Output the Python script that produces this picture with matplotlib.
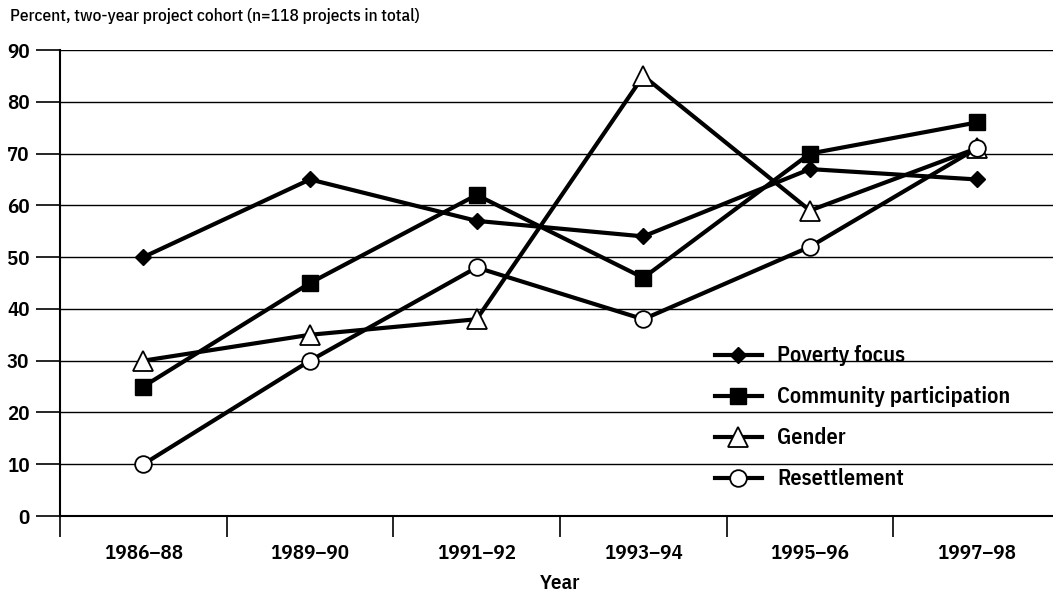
import matplotlib
matplotlib.use("Agg")
import matplotlib.pyplot as plt

# data
periods = ['1986–88', '1989–90', '1991–92', '1993–94', '1995–96', '1997–98']
poverty = [50, 65, 57, 54, 67, 65]
community = [25, 45, 62, 46, 70, 76]
gender = [30, 35, 38, 85, 59, 71]
resettlement = [10, 30, 48, 38, 52, 71]

plt.rcParams['font.family'] = ['IBM Plex Sans Condensed', 'DejaVu Sans']
plt.rcParams['font.weight'] = 600

fig = plt.figure(figsize=(10.53, 5.98), dpi=100)
ax = fig.add_axes([60 / 1053, 82 / 598, 1000 / 1053, 466 / 598])

x = list(range(len(periods)))
ax.plot(x, poverty, color='black', lw=3, marker='D', ms=8,
        mfc='black', mec='black', label='Poverty focus', zorder=3)
ax.plot(x, community, color='black', lw=3, marker='s', ms=11,
        mfc='black', mec='black', label='Community participation', zorder=3)
ax.plot(x, gender, color='black', lw=3, marker='^', ms=14,
        mfc='white', mec='black', mew=1.3, label='Gender', zorder=4)
ax.plot(x, resettlement, color='black', lw=3, marker='o', ms=12,
        mfc='white', mec='black', mew=1.3, label='Resettlement', zorder=4)

ax.set_xlim(-0.5, 5.5)
ax.set_ylim(0, 90)
ax.set_yticks(range(0, 91, 10))
ax.yaxis.grid(True, color='black', lw=1)
ax.set_axisbelow(True)

# ticks between categories, labels at the centres
ax.set_xticks([i - 0.5 for i in range(len(periods) + 1)])
ax.set_xticklabels([])
ax.set_xticks(x, minor=True)
ax.set_xticklabels(periods, minor=True, fontsize=15)
ax.tick_params(axis='x', which='major', length=15, width=1.2, direction='out')
ax.tick_params(axis='x', which='minor', length=0, pad=20)
ax.tick_params(axis='y', length=17, width=1.2, labelsize=15, pad=5)

for s in ['top', 'right']:
    ax.spines[s].set_visible(False)
ax.spines['left'].set_linewidth(1.5)
ax.spines['bottom'].set_linewidth(1.5)

ax.set_xlabel('Year', fontsize=15, fontweight=600, labelpad=8)
fig.text(10 / 1053, 1 - 21 / 598, 'Percent, two-year project cohort (n=118 projects in total)',
         fontsize=12.5, fontweight=500, va='baseline', ha='left')

ax.legend(loc='upper left', bbox_to_anchor=(0.644, 0.39), frameon=False,
          fontsize=16, labelspacing=0.9, handlelength=2.1, handletextpad=0.7,
          borderpad=0)

fig.savefig('out.png', dpi=100)
